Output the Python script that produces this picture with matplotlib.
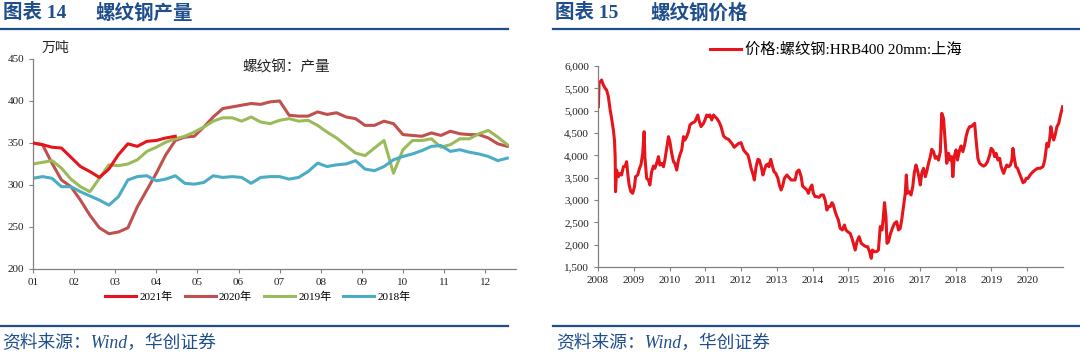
"""
Rebar output (weekly, by year) and rebar price in Shanghai
"""
import numpy as np
import matplotlib.pyplot as plt
from matplotlib.lines import Line2D
from matplotlib.ticker import FuncFormatter

CJK = ['Liberation Serif', 'Noto Sans CJK SC', 'DejaVu Sans']
plt.rcParams['font.family'] = CJK

# weekly rebar output, 10k tonnes
out_2021 = [350, 348, 345, 344, 333, 322, 316, 309, 319, 336, 349, 346, 352, 353, 356, 358]
out_2020 = [350, 348, 326, 306, 298, 282, 264, 249, 242, 244, 249, 274, 294, 314, 336, 353,
            357, 358, 369, 381, 391, 393, 395, 397, 396, 399, 400, 383, 382, 382, 387, 384,
            386, 381, 379, 371, 371, 376, 373, 360, 359, 358, 362, 359, 364, 361, 360, 360,
            356, 349, 346]
out_2019 = [325, 327, 329, 320, 307, 298, 292, 308, 324, 323, 325, 330, 340, 345, 351, 355,
            358, 363, 369, 376, 380, 380, 376, 381, 375, 373, 377, 379, 376, 377, 371, 363,
            356, 347, 338, 335, 344, 353, 314, 342, 353, 353, 355, 345, 348, 355, 355, 361,
            365, 357, 348]
out_2018 = [308, 310, 308, 298, 298, 292, 287, 282, 276, 286, 306, 310, 311, 305, 307, 311,
            302, 301, 303, 311, 309, 310, 309, 302, 309, 310, 310, 307, 309, 316, 326, 322,
            324, 325, 329, 319, 317, 322, 330, 334, 337, 341, 346, 347, 340, 342, 339, 337,
            334, 329, 332]
month_labels = ['01', '02', '03', '04', '05', '06', '07', '08', '09', '10', '11', '12']

# rebar price HRB400 20mm Shanghai, yuan/t (decimal year, price)
price_year = [
    2008.01, 2008.03, 2008.10, 2008.15, 2008.20, 2008.24, 2008.29, 2008.34, 2008.38, 2008.43,
    2008.46, 2008.48, 2008.49, 2008.52, 2008.57, 2008.62, 2008.66, 2008.71, 2008.76, 2008.80,
    2008.83, 2008.87, 2008.92, 2008.97, 2009.02, 2009.05, 2009.11, 2009.16, 2009.20, 2009.25,
    2009.29, 2009.31, 2009.36, 2009.41, 2009.45, 2009.50, 2009.55, 2009.59, 2009.64, 2009.69,
    2009.73, 2009.78, 2009.83, 2009.87, 2009.92, 2009.97, 2010.01, 2010.06, 2010.11, 2010.15,
    2010.20, 2010.25, 2010.29, 2010.34, 2010.39, 2010.43, 2010.48, 2010.53, 2010.57, 2010.62,
    2010.71, 2010.79, 2010.82, 2010.88, 2010.95, 2010.99, 2011.04, 2011.09, 2011.13, 2011.18,
    2011.23, 2011.27, 2011.32, 2011.38, 2011.44, 2011.51, 2011.58, 2011.65, 2011.74, 2011.81,
    2011.88, 2011.94, 2012.00, 2012.07, 2012.13, 2012.19, 2012.23, 2012.28, 2012.34, 2012.37,
    2012.42, 2012.47, 2012.51, 2012.56, 2012.61, 2012.65, 2012.70, 2012.75, 2012.78, 2012.83,
    2012.88, 2012.92, 2012.97, 2013.03, 2013.07, 2013.12, 2013.17, 2013.21, 2013.28, 2013.32,
    2013.40, 2013.46, 2013.51, 2013.56, 2013.62, 2013.68, 2013.72, 2013.79, 2013.84, 2013.88,
    2013.93, 2013.98, 2014.02, 2014.07, 2014.12, 2014.18, 2014.24, 2014.30, 2014.35, 2014.40,
    2014.44, 2014.49, 2014.54, 2014.58, 2014.63, 2014.68, 2014.72, 2014.77, 2014.83, 2014.89,
    2014.93, 2014.98, 2015.05, 2015.10, 2015.14, 2015.19, 2015.24, 2015.30, 2015.36, 2015.42,
    2015.49, 2015.54, 2015.59, 2015.64, 2015.67, 2015.73, 2015.79, 2015.84, 2015.89, 2015.94,
    2015.97, 2016.01, 2016.05, 2016.08, 2016.12, 2016.18, 2016.23, 2016.29, 2016.35, 2016.40,
    2016.45, 2016.49, 2016.54, 2016.59, 2016.62, 2016.65, 2016.70, 2016.75, 2016.80, 2016.84,
    2016.89, 2016.93, 2016.98, 2017.01, 2017.05, 2017.10, 2017.15, 2017.19, 2017.24, 2017.29,
    2017.33, 2017.38, 2017.43, 2017.47, 2017.52, 2017.57, 2017.61, 2017.66, 2017.71, 2017.75,
    2017.80, 2017.85, 2017.89, 2017.92, 2017.96, 2018.01, 2018.05, 2018.11, 2018.15, 2018.20,
    2018.25, 2018.29, 2018.34, 2018.39, 2018.43, 2018.48, 2018.53, 2018.57, 2018.62, 2018.67,
    2018.73, 2018.78, 2018.83, 2018.89, 2018.95, 2018.99, 2019.04, 2019.09, 2019.13, 2019.18,
    2019.23, 2019.27, 2019.34, 2019.39, 2019.43, 2019.48, 2019.53, 2019.57, 2019.60, 2019.64,
    2019.68, 2019.73, 2019.78, 2019.82, 2019.88, 2019.93, 2019.97, 2020.02, 2020.08, 2020.16,
    2020.22, 2020.29, 2020.36, 2020.44, 2020.49, 2020.52, 2020.55, 2020.59, 2020.63, 2020.66,
    2020.70, 2020.74, 2020.78, 2020.83, 2020.88, 2020.90, 2020.94, 2020.99]
price = [
    5089, 5612, 5687, 5575, 5500, 5463, 5313, 5015, 4828, 4567,
    4343, 3970, 3186, 3671, 3522, 3597, 3560, 3746, 3760, 3858,
    3597, 3336, 3186, 3150, 3299, 3522, 3560, 3709, 3783, 4045,
    4530, 3970, 3485, 3448, 3336, 3634, 3760, 3709, 3821, 3970,
    3783, 3821, 3746, 3895, 4157, 4418, 4306, 4045, 3858, 3821,
    3671, 3895, 4008, 4120, 4418, 4343, 4418, 4530, 4679, 4716,
    4754, 4903, 4791, 4642, 4716, 4791, 4903, 4866, 4903, 4791,
    4903, 4866, 4828, 4754, 4642, 4433, 4381, 4358, 4269, 4180,
    4232, 4269, 4284, 4120, 4060, 4008, 3895, 3709, 3560, 3448,
    3746, 3910, 3895, 3760, 3560, 3671, 3783, 3806, 3746, 3910,
    3746, 3634, 3597, 3485, 3336, 3224, 3336, 3485, 3560, 3522,
    3448, 3448, 3448, 3634, 3671, 3522, 3313, 3261, 3224, 3150,
    3261, 3336, 3150, 3075, 3075, 3060, 3112, 3112, 3000, 2776,
    2851, 2851, 2940, 2888, 2739, 2627, 2552, 2366, 2329, 2440,
    2329, 2291, 2254, 2142, 2030, 1880, 2067, 2179, 2030, 1992,
    1955, 1955, 1843, 1694, 1880, 1843, 1843, 1880, 2403, 2329,
    2552, 2940, 2627, 2030, 2067, 2254, 2366, 2478, 2515, 2329,
    2366, 2552, 2851, 3150, 3560, 3150, 3186, 3112, 3299, 3597,
    3783, 3671, 3485, 3336, 3597, 3709, 3522, 3634, 3821, 3970,
    4135, 4082, 3933, 3970, 3895, 4082, 4940, 4828, 4269, 3821,
    4045, 3895, 3970, 3522, 3970, 4120, 3895, 4120, 4209, 4082,
    4232, 4418, 4567, 4642, 4642, 4679, 4716, 4343, 3933, 3821,
    3783, 3760, 3783, 3858, 4008, 4157, 4120, 3970, 4045, 3895,
    3933, 3746, 3597, 3709, 3783, 3746, 3783, 3895, 4157, 3933,
    3746, 3709, 3597, 3522, 3388, 3410, 3485, 3485, 3560, 3634,
    3671, 3709, 3709, 3746, 3895, 4082, 4269, 4194, 4381, 4642,
    4455, 4343, 4455, 4642, 4716, 4791, 4940, 5089]

BLUE = '#1F4E8C'
AXC = '#808080'

fig = plt.figure(figsize=(10.8, 3.55), dpi=100)


def style_axes(ax):
    for s in ['top', 'right']:
        ax.spines[s].set_visible(False)
    for s in ['left', 'bottom']:
        ax.spines[s].set_color(AXC)
        ax.spines[s].set_linewidth(0.9)
    ax.tick_params(axis='both', colors=AXC, labelcolor='#222222', labelsize=8,
                   length=3, width=0.8, direction='out')


# ---- left: output ----
ax1 = fig.add_axes([33 / 1080, 1 - 269 / 355, (516 - 33) / 1080, (269 - 59) / 355])
style_axes(ax1)
wk = 12 / 52
series = [(out_2021, '#E8141C', '2021年'), (out_2020, '#C0504D', '2020年'),
          (out_2019, '#9BBB59', '2019年'), (out_2018, '#4BACC6', '2018年')]
handles = []
for vals, col, lab in series:
    h, = ax1.plot(np.arange(len(vals)) * wk, vals, color=col, lw=2.2, label=lab,
                  solid_joinstyle='round')
    handles.append(h)
handles[0].set_zorder(5)
ax1.set_xlim(0, 11.75)
ax1.set_ylim(200, 450)
ax1.set_yticks(range(200, 451, 50))
ax1.set_xticks(range(12))
ax1.set_xticklabels(month_labels)
ax1.text(6.15, 440, '螺纹钢：产量', ha='center', va='center', fontsize=10.5, color='#222222')
fig.text(42 / 1080, 1 - 48 / 355, '万吨', ha='left', va='center', fontsize=10, color='#222222')
fig.legend(handles=handles, loc='center', bbox_to_anchor=(258 / 1080, 1 - 297 / 355),
           ncol=4, frameon=False, fontsize=8, handlelength=2.8, columnspacing=1.05,
           handletextpad=0.3)

# ---- right: price ----
ax2 = fig.add_axes([598 / 1080, 1 - 267 / 355, (1063 - 598) / 1080, (267 - 66) / 355])
style_axes(ax2)
ln, = ax2.plot(price_year, price, color='#E8141C', lw=2.2, label='价格:螺纹钢:HRB400 20mm:上海')
ax2.set_xlim(2008, 2021)
ax2.set_ylim(1500, 6000)
ax2.set_yticks(range(1500, 6001, 500))
ax2.yaxis.set_major_formatter(FuncFormatter(lambda v, p: f'{int(v):,}'))
ax2.set_xticks(range(2008, 2021))
fig.legend(handles=[ln], loc='center', bbox_to_anchor=(836 / 1080, 1 - 50 / 355),
           frameon=False, fontsize=11, handlelength=2.0, handletextpad=0.3)

# ---- titles, rules, sources ----
for x0, x1, num, name in [(3, 95, '14', '螺纹钢产量'), (555, 650, '15', '螺纹钢价格')]:
    fig.text(x0 / 1080, 1 - 13 / 355, f'图表 {num}', ha='left', va='center',
             fontsize=14, fontweight='bold', color=BLUE)
    fig.text(x1 / 1080, 1 - 13 / 355, name, ha='left', va='center',
             fontsize=14, fontweight='bold', color=BLUE)
for xa, xb in [(0, 508), (553, 1080)]:
    for y in (29, 326):
        fig.add_artist(Line2D([xa / 1080, xb / 1080], [1 - y / 355, 1 - y / 355],
                              transform=fig.transFigure, color=BLUE, lw=1.6))
for x0 in (2, 556):
    fig.text(x0 / 1080, 1 - 343 / 355, '资料来源：Wind，华创证券', ha='left', va='center',
             fontsize=12.8, style='italic', color=BLUE)

fig.savefig('out.png', dpi=100)
